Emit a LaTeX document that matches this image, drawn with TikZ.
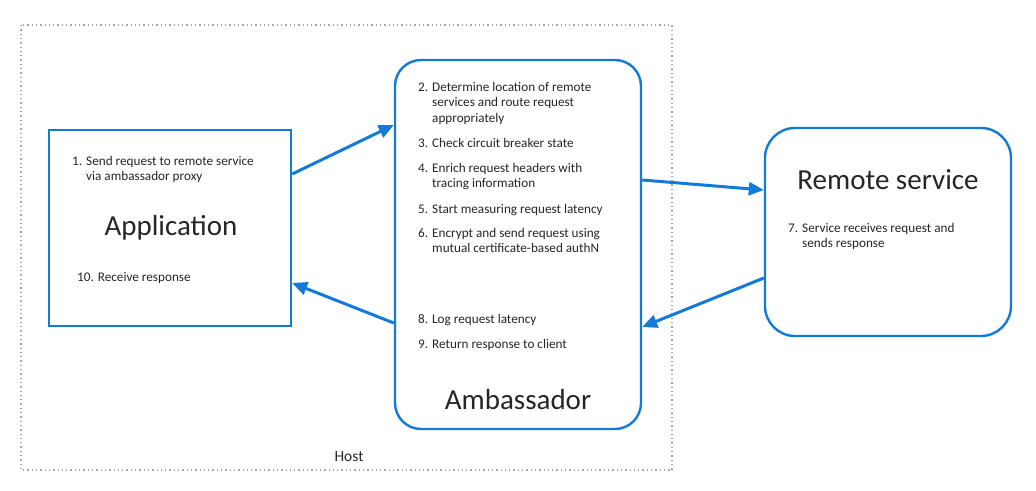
\documentclass[tikz,border=0pt]{standalone}
\usepackage{fontspec}
\setmainfont{Carlito}
\usetikzlibrary{arrows.meta}
\definecolor{azblue}{RGB}{20,122,215}
\definecolor{txt}{RGB}{38,38,38}
\begin{document}
\begin{tikzpicture}[x=1pt,y=-1pt,
  box/.style={draw=azblue,line width=2.4pt,fill=white,inner sep=0pt},
  flow/.style={draw=azblue,line width=3pt,-{Triangle[length=15pt,width=13pt]}},
  item/.style={anchor=base west,inner sep=0pt,text=txt,font=\fontsize{13.2}{15.7}\selectfont},
  title/.style={inner sep=0pt,text=txt,font=\fontsize{29}{32}\selectfont},
  host/.style={draw=gray!70,line width=1.3pt,dash pattern=on 1.3pt off 3pt}]
\useasboundingbox (0,0) rectangle (1036,490);
\draw[host] (21,25) rectangle (672,470);
\node[inner sep=0pt,text=txt,font=\fontsize{15.5}{18}\selectfont] (hostlbl) at (349,457) {Host};

\node[box,minimum width=242pt,minimum height=196pt] (app) at (170,228) {};
\node[box,rounded corners=26pt,minimum width=246pt,minimum height=369pt] (amb) at (518,244.5) {};
\node[box,rounded corners=30pt,minimum width=246pt,minimum height=208pt] (rem) at (888,232) {};

\node[title] (apptitle) at (171,228) {Application};
\node[title] (ambtitle) at (518,400) {Ambassador};
\node[title] (remtitle) at (888,180) {Remote service};

\node[item] (s1) at (72,165) {\begin{tabular}[t]{@{}l@{ }l@{}}1. & Send request to remote service\\ & via ambassador proxy\end{tabular}};
\node[item] (s10) at (77,281) {10. Receive response};

\node[item] (s2) at (418,91) {\begin{tabular}[t]{@{}l@{ }l@{}}2. & Determine location of remote\\ & services and route request\\ & appropriately\end{tabular}};
\node[item] (s3) at (418,147) {3. Check circuit breaker state};
\node[item] (s4) at (418,172) {\begin{tabular}[t]{@{}l@{ }l@{}}4. & Enrich request headers with\\ & tracing information\end{tabular}};
\node[item] (s5) at (418,213) {5. Start measuring request latency};
\node[item] (s6) at (418,237) {\begin{tabular}[t]{@{}l@{ }l@{}}6. & Encrypt and send request using\\ & mutual certificate-based authN\end{tabular}};
\node[item] (s8) at (418,323) {8. Log request latency};
\node[item] (s9) at (418,348) {9. Return response to client};

\node[item] (s7) at (788,232) {\begin{tabular}[t]{@{}l@{ }l@{}}7. & Service receives request and\\ & sends response\end{tabular}};

\draw[flow] ([yshift=54pt]app.east) -- ([yshift=119.5pt]amb.west);
\draw[flow] ([yshift=64.5pt]amb.east) -- ([yshift=42pt]rem.west);
\draw[flow] ([yshift=-46pt]rem.west) -- ([yshift=-82.5pt]amb.east);
\draw[flow] ([yshift=-78.5pt]amb.west) -- ([yshift=-55pt]app.east);
\end{tikzpicture}
\end{document}
